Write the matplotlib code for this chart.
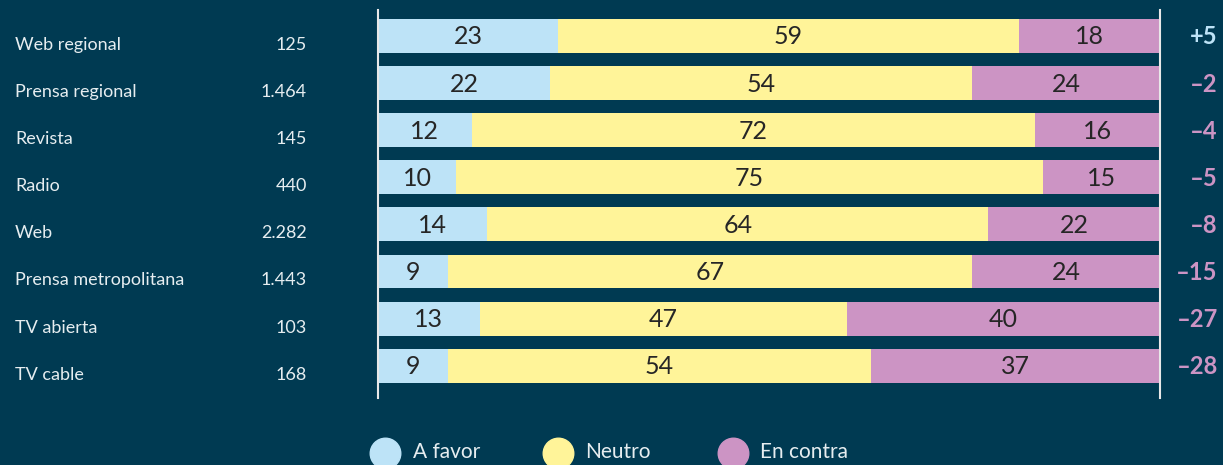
import matplotlib.pyplot as plt
from matplotlib.lines import Line2D

plt.rcParams['font.family'] = ['Lato', 'DejaVu Sans']

categorias = ["Web regional", "Prensa regional", "Revista", "Radio", "Web",
              "Prensa metropolitana", "TV abierta", "TV cable"]
n_notas = ["125", "1.464", "145", "440", "2.282", "1.443", "103", "168"]
a_favor = [23, 22, 12, 10, 14, 9, 13, 9]
neutro = [59, 54, 72, 75, 64, 67, 47, 54]
en_contra = [18, 24, 16, 15, 22, 24, 40, 37]

bg = '#003a52'
c_favor = '#bde3f7'
c_neutro = '#fff499'
c_contra = '#cc94c4'
txt = '#e6edf0'

fig = plt.figure(figsize=(12.23, 4.65), dpi=100, facecolor=bg)
W, H = 1223, 465
ax = fig.add_axes([378 / W, 1 - 398 / H, 782 / W, 388 / H])
ax.set_facecolor(bg)

y = list(range(len(categorias)))
h = 0.72
ax.barh(y, a_favor, height=h, color=c_favor)
ax.barh(y, neutro, left=a_favor, height=h, color=c_neutro)
izq_contra = [a + b for a, b in zip(a_favor, neutro)]
ax.barh(y, en_contra, left=izq_contra, height=h, color=c_contra)

ax.set_xlim(0, 100)
ax.set_ylim(7.686, -0.552)

tr = ax.get_yaxis_transform()
for i in y:
    segs = [(0, a_favor[i]), (a_favor[i], neutro[i]), (izq_contra[i], en_contra[i])]
    for start, val in segs:
        ax.text(start + val / 2, i + 0.02, str(val), ha='center', va='center',
                fontsize=18, color='#262626')
    ax.text(-0.464, i + 0.19, categorias[i], transform=tr, ha='left', va='center',
            fontsize=13, color=txt)
    ax.text(-0.091, i + 0.19, n_notas[i], transform=tr, ha='right', va='center',
            fontsize=13, color=txt)
    d = a_favor[i] - en_contra[i]
    s = f"+{d}" if d > 0 else f"\u2013{abs(d)}"
    ax.text(1.074, i + 0.02, s, transform=tr, ha='right', va='center', fontsize=17,
            fontweight='bold', color=c_favor if d > 0 else c_contra)

ax.set_xticks([])
ax.set_yticks([])
for side in ['top', 'bottom']:
    ax.spines[side].set_visible(False)
for side in ['left', 'right']:
    ax.spines[side].set_color('#e8e8e8')
    ax.spines[side].set_linewidth(1.5)

# leyenda
leg = [("A favor", c_favor, 385, 413), ("Neutro", c_neutro, 558, 585),
       ("En contra", c_contra, 733, 760)]
for lab, col, cx, tx in leg:
    fig.add_artist(Line2D([cx / W], [1 - 453 / H], marker='o', markersize=22,
                          color=col, transform=fig.transFigure, linestyle='none'))
    fig.text(tx / W, 1 - 452 / H, lab, ha='left', va='center', fontsize=15, color=txt)

fig.savefig('out.png', dpi=100, facecolor=bg)
